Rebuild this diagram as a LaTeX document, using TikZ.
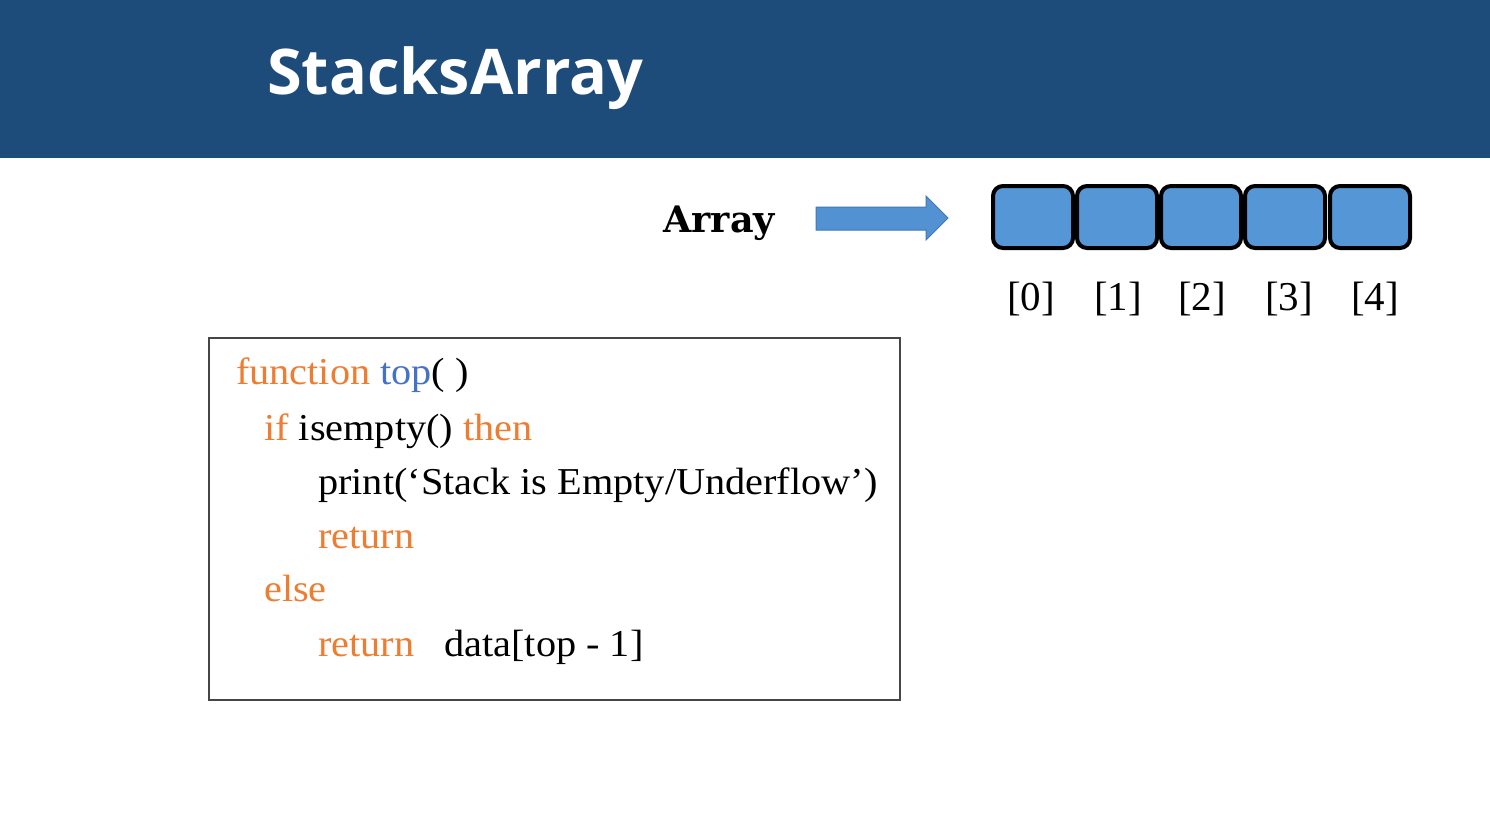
\documentclass[tikz,border=0pt]{standalone}
\usepackage{fontspec}
\setmainfont{Liberation Serif}
\newfontfamily\codefont[FakeStretch=1.06]{Liberation Serif}
\newfontfamily\titlefont{Open Sans}
\newfontfamily\slabfont{DejaVu Serif}
\definecolor{headerblue}{RGB}{29,75,122}
\definecolor{cellblue}{RGB}{84,150,214}
\definecolor{arrowblue}{RGB}{82,146,210}
\definecolor{arrowedge}{RGB}{65,120,180}
\definecolor{kwor}{RGB}{237,125,49}
\definecolor{fnblue}{RGB}{68,114,196}
\definecolor{boxgray}{RGB}{70,70,70}
\tikzset{
  cell/.style={draw=black, line width=4pt, fill=cellblue, rounded corners=10pt,
    minimum width=80pt, minimum height=62pt, inner sep=0pt},
  idx/.style={font=\fontsize{41}{44}\selectfont, anchor=base, inner sep=0pt},
  code/.style={font=\codefont\fontsize{38}{42}\selectfont, anchor=base west, inner sep=0pt},
  kw/.style={text=kwor}
}
\begin{document}
\begin{tikzpicture}[x=1pt,y=-1pt]
  \useasboundingbox (0,0) rectangle (1490,823);
  \fill[white] (0,0) rectangle (1490,823);
  % header band and title
  \fill[headerblue] (0,0) rectangle (1490,158);
  \node[anchor=base west, inner sep=0pt, text=white,
        font=\titlefont\bfseries\fontsize{63}{68}\selectfont] (title) at (267,94) {StacksArray};
  % array label and arrow
  \node[anchor=base west, inner sep=0pt, font=\slabfont\bfseries\fontsize{36.5}{40}\selectfont] (lbl) at (663,232) {Array};
  \filldraw[fill=arrowblue, draw=arrowedge, line width=1pt]
    (816,207) -- (926,207) -- (926,196) -- (948,218) -- (926,240) -- (926,230) -- (816,230) -- cycle;
  % array cells with their indices
  \foreach \i/\cx/\lx in {0/1033/1031, 1/1117/1118, 2/1201/1202, 3/1285/1289, 4/1370/1375} {
    \node[cell] (c\i) at (\cx,217) {};
    \node[idx] (i\i) at (\lx,310) {[\i]};
  }
  % pseudocode box
  \node[draw=boxgray, line width=1.5pt, minimum width=691pt, minimum height=362pt,
        anchor=north west, inner sep=0pt] (codebox) at (208,337) {};
  \node[code] (l1) at (236,384) {\textcolor{kwor}{function} \textcolor{fnblue}{top}( )};
  \node[code] (l2) at (264,440) {\textcolor{kwor}{if} isempty() \textcolor{kwor}{then}};
  \node[code] (l3) at (318,494) {print(‘Stack is Empty/Underflow’)};
  \node[code, kw] (l4) at (318,548) {return};
  \node[code, kw] (l5) at (264,601) {else};
  \node[code] (l6) at (318,656) {\textcolor{kwor}{return}\hspace{30pt}data[top - 1]};
\end{tikzpicture}
\end{document}
